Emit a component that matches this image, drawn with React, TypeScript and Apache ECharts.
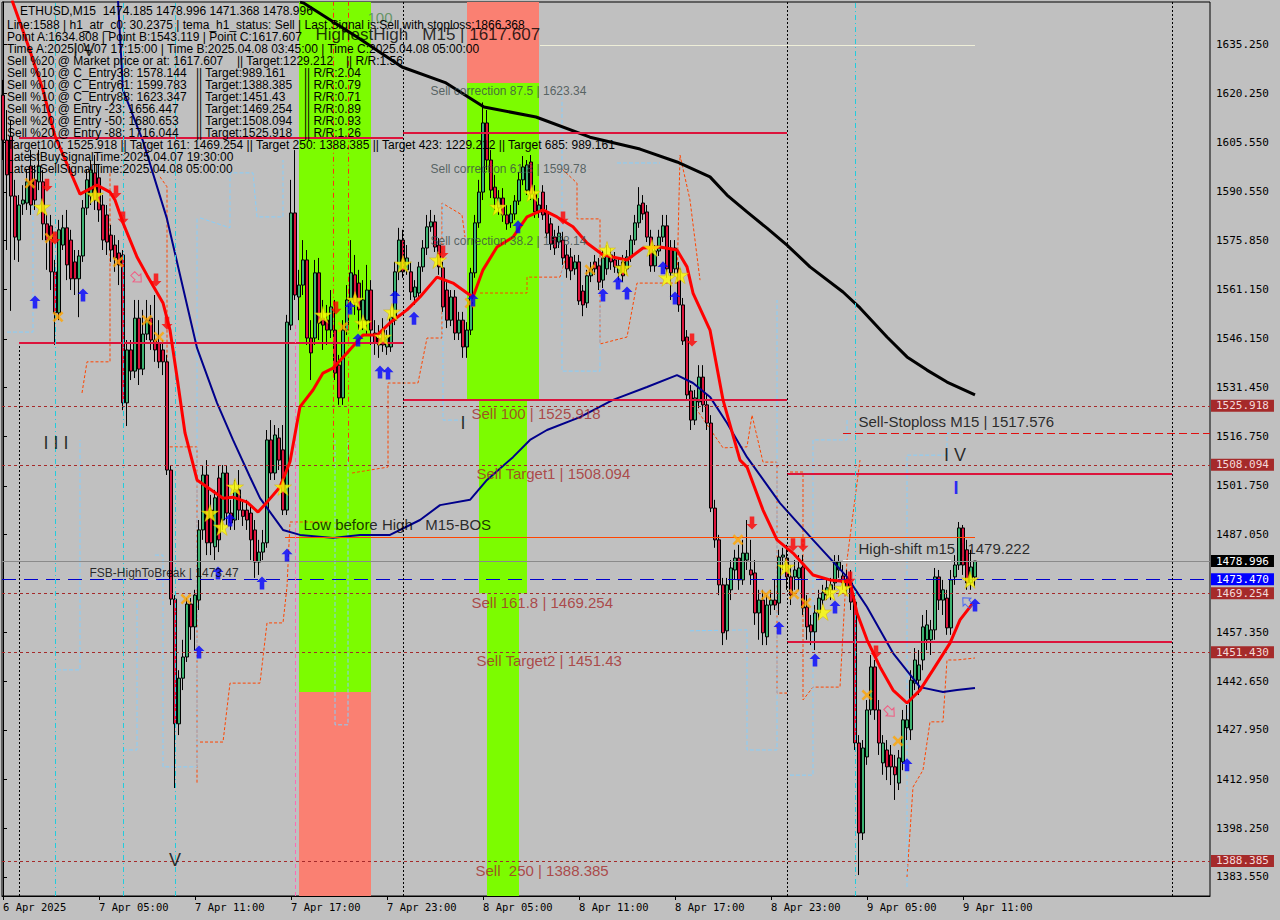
import React, { useEffect, useRef } from "react";
import * as echarts from "echarts";

// ---------- axis ranges (price / candle-index units) ----------
const Y_MIN = 1377.77;
const Y_MAX = 1647.95;
const X_MIN = -0.25;
const X_MAX = 301.75;

const xTickIndex = [0, 24, 48, 72, 96, 120, 144, 168, 192, 216, 240];
const xTickLabels = ["6 Apr 2025", "7 Apr 05:00", "7 Apr 11:00", "7 Apr 17:00", "7 Apr 23:00", "8 Apr 05:00", "8 Apr 11:00", "8 Apr 17:00", "8 Apr 23:00", "9 Apr 05:00", "9 Apr 11:00"];
const yTickValues = [1635.25, 1620.25, 1605.55, 1590.55, 1575.85, 1561.15, 1546.15, 1531.45, 1516.75, 1501.75, 1487.05, 1457.35, 1442.65, 1427.95, 1412.95, 1398.25, 1383.55];

// ---------- ETHUSD M15 candles [open, close, low, high] ----------
const candles = [
  [1619.8, 1606.2, 1600.2, 1624.4], [1606.2, 1595.7, 1573.0, 1615.3], [1607.4, 1589.3, 1554.6, 1612.3], [1589.3, 1576.9, 1570.0, 1594.2],
  [1576.0, 1586.6, 1569.4, 1589.6], [1586.9, 1588.1, 1583.6, 1592.6], [1587.2, 1593.6, 1585.1, 1597.2], [1598.4, 1586.6, 1583.6, 1603.2],
  [1594.2, 1588.1, 1585.1, 1598.7], [1593.6, 1598.4, 1591.1, 1603.2], [1593.6, 1580.9, 1576.0, 1597.2], [1580.9, 1576.0, 1567.0, 1583.6],
  [1580.3, 1566.4, 1560.9, 1583.6], [1566.4, 1554.0, 1544.3, 1570.0], [1554.0, 1579.1, 1551.8, 1582.1], [1574.5, 1579.7, 1573.0, 1583.6],
  [1579.7, 1568.5, 1563.9, 1585.1], [1576.0, 1564.3, 1560.9, 1579.1], [1569.4, 1564.3, 1559.4, 1573.0], [1564.3, 1571.2, 1552.7, 1573.0],
  [1571.2, 1585.7, 1569.4, 1588.1], [1585.7, 1594.2, 1583.6, 1597.2], [1589.3, 1597.2, 1586.6, 1600.2], [1596.3, 1588.1, 1585.1, 1601.7],
  [1594.8, 1585.1, 1581.5, 1598.7], [1586.6, 1576.0, 1573.0, 1589.6], [1583.6, 1575.4, 1571.5, 1586.6], [1577.5, 1573.0, 1569.4, 1580.6],
  [1574.5, 1570.6, 1566.4, 1577.5], [1572.1, 1568.5, 1562.4, 1576.0], [1571.5, 1526.8, 1524.6, 1573.0], [1526.8, 1542.8, 1519.8, 1545.8],
  [1542.8, 1536.4, 1533.7, 1545.8], [1536.4, 1552.4, 1534.3, 1557.9], [1552.4, 1537.0, 1532.2, 1557.9], [1537.0, 1547.6, 1535.2, 1554.9],
  [1547.6, 1551.8, 1545.8, 1557.9], [1552.4, 1545.8, 1542.8, 1556.4], [1545.8, 1542.8, 1539.2, 1559.4], [1544.9, 1539.2, 1537.3, 1551.8],
  [1542.8, 1539.2, 1535.2, 1545.8], [1539.2, 1506.5, 1505.0, 1541.3], [1506.5, 1467.5, 1465.7, 1508.0], [1467.5, 1429.8, 1410.4, 1468.7],
  [1429.8, 1443.6, 1426.4, 1446.0], [1443.6, 1450.0, 1440.0, 1455.2], [1450.0, 1466.0, 1448.5, 1467.8], [1466.0, 1459.1, 1455.2, 1467.8],
  [1459.1, 1468.7, 1452.1, 1470.3], [1467.2, 1488.4, 1464.2, 1491.4], [1488.4, 1505.0, 1485.4, 1508.0], [1505.0, 1484.5, 1480.8, 1509.5],
  [1494.4, 1484.5, 1480.8, 1499.0], [1483.3, 1498.1, 1479.3, 1500.5], [1504.1, 1485.4, 1481.7, 1508.0], [1491.4, 1505.6, 1488.4, 1508.0],
  [1505.6, 1493.5, 1489.9, 1508.0], [1493.5, 1490.5, 1488.4, 1497.5], [1491.4, 1500.5, 1488.4, 1503.5], [1500.5, 1494.4, 1491.4, 1506.5],
  [1494.4, 1492.5, 1489.6, 1497.2], [1494.4, 1491.4, 1488.4, 1497.5], [1493.5, 1485.4, 1479.3, 1495.9], [1488.4, 1478.7, 1473.9, 1491.4],
  [1478.7, 1481.7, 1474.8, 1485.4], [1481.7, 1484.5, 1479.3, 1488.4], [1484.5, 1515.6, 1483.0, 1518.6], [1515.6, 1505.6, 1503.5, 1521.6],
  [1505.6, 1517.1, 1503.5, 1520.1], [1516.2, 1509.5, 1506.5, 1519.2], [1512.6, 1494.4, 1492.9, 1520.1], [1494.4, 1551.2, 1492.9, 1553.4],
  [1550.3, 1584.2, 1548.8, 1594.2], [1584.2, 1559.4, 1557.9, 1603.2], [1558.8, 1562.4, 1551.8, 1567.0], [1562.4, 1570.0, 1559.4, 1576.0],
  [1570.0, 1546.4, 1544.3, 1573.0], [1546.4, 1541.9, 1533.7, 1551.8], [1546.4, 1566.1, 1544.3, 1570.0], [1566.1, 1550.9, 1545.8, 1570.6],
  [1552.4, 1550.3, 1542.8, 1557.9], [1551.8, 1548.8, 1544.3, 1556.4], [1548.8, 1555.8, 1546.4, 1560.9], [1548.8, 1535.8, 1533.7, 1557.9],
  [1538.2, 1528.3, 1526.2, 1541.3], [1528.3, 1548.8, 1526.2, 1551.8], [1548.8, 1557.9, 1547.3, 1562.4], [1557.9, 1566.1, 1554.9, 1576.0],
  [1565.5, 1557.0, 1553.4, 1571.5], [1563.0, 1554.9, 1548.8, 1567.0], [1551.8, 1557.9, 1548.8, 1563.9], [1551.8, 1560.9, 1547.3, 1568.5],
  [1560.9, 1548.8, 1544.3, 1563.9], [1547.9, 1544.9, 1541.3, 1551.8], [1546.4, 1544.3, 1540.4, 1550.3], [1548.8, 1544.3, 1542.2, 1552.4],
  [1543.7, 1546.7, 1541.3, 1548.8], [1543.7, 1552.7, 1542.2, 1554.9], [1551.8, 1566.4, 1550.3, 1569.4], [1566.4, 1576.0, 1563.9, 1579.7],
  [1576.0, 1566.4, 1564.6, 1579.1], [1567.0, 1570.6, 1565.5, 1574.5], [1566.4, 1560.3, 1557.9, 1569.4], [1558.8, 1561.8, 1556.4, 1563.9],
  [1560.0, 1567.9, 1557.9, 1569.4], [1567.9, 1573.6, 1566.4, 1576.0], [1573.6, 1580.0, 1571.5, 1583.6], [1580.0, 1581.5, 1578.5, 1585.1],
  [1581.5, 1573.9, 1572.4, 1583.6], [1574.5, 1567.9, 1565.5, 1576.6], [1567.6, 1555.8, 1554.3, 1569.4], [1560.9, 1551.8, 1549.4, 1563.3],
  [1551.8, 1558.8, 1550.0, 1560.9], [1558.8, 1547.9, 1545.8, 1560.9], [1547.9, 1551.8, 1545.8, 1554.3], [1551.8, 1543.7, 1540.4, 1554.3],
  [1543.7, 1548.8, 1540.4, 1551.2], [1548.8, 1566.1, 1547.3, 1567.6], [1566.1, 1581.2, 1564.6, 1583.6], [1581.2, 1590.5, 1579.7, 1594.2],
  [1590.5, 1611.4, 1588.1, 1617.6], [1611.4, 1600.2, 1597.2, 1615.3], [1600.2, 1591.1, 1588.7, 1603.2], [1592.0, 1588.7, 1585.1, 1595.7],
  [1585.7, 1588.7, 1583.6, 1591.1], [1588.7, 1583.6, 1581.5, 1591.7], [1583.6, 1580.9, 1579.1, 1586.6], [1581.2, 1583.9, 1579.7, 1586.6],
  [1583.9, 1587.8, 1582.1, 1589.6], [1587.8, 1594.2, 1586.6, 1596.6], [1594.2, 1598.1, 1592.6, 1601.4], [1591.1, 1598.7, 1589.6, 1600.2],
  [1599.6, 1589.9, 1588.1, 1601.7], [1589.9, 1584.5, 1582.7, 1592.6], [1584.5, 1586.6, 1582.7, 1588.7], [1590.5, 1583.6, 1582.1, 1592.6],
  [1584.5, 1578.1, 1576.6, 1586.6], [1580.9, 1574.8, 1573.0, 1582.7], [1576.9, 1573.6, 1571.5, 1579.1], [1575.4, 1578.1, 1573.6, 1580.3],
  [1576.0, 1570.6, 1568.5, 1578.5], [1571.5, 1567.3, 1564.6, 1574.5], [1570.9, 1566.7, 1563.9, 1573.6], [1567.3, 1569.4, 1565.5, 1571.5],
  [1569.4, 1557.6, 1556.4, 1571.5], [1560.6, 1556.4, 1553.0, 1562.4], [1557.0, 1565.2, 1555.5, 1567.0], [1565.2, 1567.3, 1563.3, 1569.4],
  [1569.4, 1567.3, 1565.5, 1571.5], [1568.2, 1563.3, 1560.9, 1570.6], [1563.9, 1570.6, 1561.5, 1573.0], [1567.3, 1571.5, 1565.5, 1574.5],
  [1571.5, 1569.4, 1567.0, 1573.6], [1570.0, 1567.9, 1566.1, 1572.4], [1566.1, 1568.2, 1563.9, 1570.6], [1569.4, 1565.2, 1563.3, 1571.5],
  [1567.3, 1570.9, 1565.5, 1573.0], [1570.9, 1576.0, 1569.4, 1577.5], [1576.0, 1581.2, 1574.5, 1583.6], [1581.2, 1586.6, 1579.7, 1592.0],
  [1587.2, 1583.9, 1582.1, 1589.6], [1584.5, 1576.9, 1575.4, 1586.6], [1576.9, 1568.2, 1566.4, 1579.1], [1568.2, 1572.7, 1566.4, 1574.5],
  [1572.7, 1576.9, 1571.2, 1579.1], [1576.9, 1580.3, 1575.4, 1583.6], [1580.3, 1567.3, 1564.6, 1583.6], [1573.6, 1566.1, 1557.9, 1576.0],
  [1567.3, 1573.6, 1565.5, 1576.0], [1567.3, 1556.4, 1554.3, 1569.4], [1556.4, 1545.5, 1544.3, 1558.5], [1546.7, 1529.2, 1527.7, 1548.8],
  [1530.4, 1521.6, 1518.6, 1532.2], [1521.6, 1528.3, 1520.1, 1530.7], [1527.1, 1534.6, 1525.2, 1538.2], [1534.6, 1526.2, 1524.0, 1538.2],
  [1526.2, 1520.7, 1518.6, 1529.2], [1520.7, 1495.0, 1493.8, 1523.1], [1495.0, 1485.4, 1483.0, 1497.5], [1485.4, 1471.8, 1468.7, 1486.9],
  [1471.8, 1457.3, 1453.6, 1473.9], [1457.9, 1471.8, 1455.2, 1473.9], [1470.3, 1476.9, 1467.2, 1479.3], [1476.3, 1479.9, 1473.3, 1482.4],
  [1479.9, 1473.3, 1470.3, 1483.9], [1473.3, 1481.4, 1471.8, 1485.4], [1479.3, 1481.4, 1476.3, 1491.4], [1476.3, 1474.8, 1471.8, 1485.4],
  [1475.4, 1463.3, 1459.7, 1479.3], [1463.3, 1467.2, 1455.2, 1470.3], [1467.2, 1457.3, 1453.6, 1470.3], [1456.1, 1465.7, 1453.6, 1468.7],
  [1465.7, 1467.2, 1462.7, 1470.3], [1467.2, 1465.7, 1464.2, 1473.3], [1466.3, 1480.2, 1462.7, 1482.4], [1480.2, 1480.8, 1476.3, 1483.0],
  [1479.9, 1474.2, 1470.3, 1483.9], [1474.2, 1468.7, 1465.7, 1477.8], [1474.2, 1476.3, 1470.3, 1479.3], [1473.9, 1476.9, 1470.3, 1480.8],
  [1477.2, 1464.8, 1462.7, 1480.8], [1465.1, 1459.1, 1455.2, 1468.7], [1459.7, 1457.6, 1453.6, 1462.7], [1457.6, 1463.3, 1452.1, 1465.7],
  [1463.3, 1467.8, 1461.2, 1470.3], [1467.2, 1469.4, 1465.7, 1471.8], [1468.7, 1470.9, 1467.2, 1473.3], [1470.3, 1471.8, 1467.2, 1473.9],
  [1472.4, 1478.7, 1470.3, 1480.8], [1476.3, 1478.7, 1473.9, 1480.8], [1474.5, 1472.4, 1470.3, 1477.8], [1473.3, 1471.2, 1468.7, 1476.3],
  [1472.4, 1466.6, 1464.2, 1476.3], [1466.6, 1424.0, 1421.9, 1468.7], [1424.0, 1396.8, 1384.1, 1426.4], [1396.8, 1422.5, 1394.7, 1424.9],
  [1419.8, 1434.0, 1417.4, 1437.0], [1434.0, 1447.0, 1432.5, 1450.6], [1447.0, 1434.0, 1431.0, 1449.1], [1434.0, 1424.0, 1420.4, 1437.0],
  [1418.0, 1424.0, 1414.4, 1426.4], [1421.9, 1416.8, 1412.8, 1424.9], [1420.4, 1416.8, 1411.3, 1423.4], [1416.8, 1414.4, 1406.8, 1420.4],
  [1411.9, 1419.5, 1409.8, 1421.9], [1418.3, 1431.0, 1415.8, 1434.0], [1428.6, 1431.0, 1424.9, 1435.5], [1428.0, 1443.0, 1424.9, 1446.0],
  [1442.1, 1449.1, 1440.0, 1452.7], [1443.0, 1447.6, 1438.5, 1452.1], [1449.1, 1459.1, 1446.0, 1462.7], [1455.2, 1459.7, 1452.1, 1464.2],
  [1455.2, 1458.2, 1450.6, 1461.2], [1458.2, 1474.2, 1455.2, 1476.9], [1474.2, 1467.2, 1464.2, 1476.3], [1467.2, 1470.3, 1462.7, 1473.3],
  [1467.8, 1458.8, 1456.7, 1470.3], [1458.8, 1473.3, 1456.7, 1476.3], [1474.2, 1477.8, 1471.8, 1480.8], [1477.8, 1489.0, 1476.3, 1490.8],
  [1489.0, 1477.8, 1474.8, 1489.9], [1482.4, 1472.4, 1470.3, 1485.4], [1472.4, 1477.2, 1470.3, 1482.4], [1474.185, 1478.996, 1471.368, 1478.996],
];

// ---------- indicator lines [candle index, price] ----------
const temaLine = [
  [2.25, 1648.5], [6.25, 1634.95], [10, 1621.35], [13, 1607.45], [16, 1599.0], [19.25, 1589.9], [23.5, 1592.6], [26.75, 1590.5],
  [28, 1588.1], [30, 1581.2], [33.5, 1570.9], [36, 1565.4], [40, 1557.0], [41.75, 1548.8], [43.5, 1534.6], [45.5, 1517.7],
  [47.25, 1509.5], [48.5, 1503.5], [51, 1501.4], [55, 1498.0], [57.5, 1498.3], [61, 1496.8], [63.75, 1493.8], [66, 1496.8],
  [69.25, 1501.4], [71.75, 1509.0], [74.25, 1525.6], [77.5, 1530.7], [80, 1535.8], [82.5, 1537.3], [86, 1541.9], [90, 1547.3],
  [93.5, 1547.3], [96.75, 1551.0], [101, 1554.9], [104.25, 1558.8], [108.5, 1564.8], [112.5, 1563.0], [116, 1560.0], [117.5, 1558.8],
  [120, 1567.0], [123.5, 1573.9], [127.5, 1576.9], [131, 1583.0], [135, 1585.1], [138.5, 1583.0], [142.5, 1580.0], [146, 1575.1],
  [150, 1571.5], [156, 1570.0], [160, 1573.6], [164.25, 1573.9], [168.5, 1573.0], [171, 1567.9], [172.5, 1560.0], [176.75, 1548.8],
  [180, 1527.7], [184.25, 1509.5], [186, 1507.4], [190, 1494.4], [193.5, 1485.4], [197.5, 1481.4], [202.5, 1474.8], [206.75, 1473.3],
  [211.75, 1472.7], [213.5, 1463.3], [216, 1455.2], [219.25, 1447.0], [222.5, 1440.0], [226, 1436.1], [229.25, 1440.0], [232.5, 1446.1],
  [236.75, 1454.2], [239.25, 1461.2], [242.5, 1466.3],
];
const maLine = [
  [28.75, 1648.5], [30, 1621.35], [35, 1605.9], [41, 1582.4], [48.5, 1543.4], [53.5, 1526.8], [57.5, 1515.6], [61.75, 1504.4],
  [64.25, 1498.0], [70, 1488.4], [74.25, 1486.9], [82.5, 1486.0], [89.25, 1486.9], [96.75, 1486.9], [104.25, 1491.4], [109.25, 1495.9],
  [116.75, 1497.5], [121, 1503.5], [127.5, 1510.4], [131.75, 1515.6], [136, 1518.6], [144.25, 1522.5], [152.5, 1527.7], [161, 1531.6],
  [168.5, 1535.2], [172.5, 1532.8], [176.75, 1528.6], [181, 1520.7], [186, 1510.4], [194.25, 1496.5], [202.5, 1485.4], [211, 1474.2],
  [216, 1465.1], [222.5, 1451.2], [229.25, 1440.9], [235, 1439.4], [238.5, 1440.0], [243, 1440.6],
];
const slowLine = [
  [74.25, 1647.9], [75.25, 1647.6], [88.5, 1637.4], [99.75, 1628.3], [110.75, 1623.5], [120.25, 1616.2], [133.25, 1613.2], [146.75, 1607.1],
  [159.25, 1603.5], [168.5, 1599.6], [176.75, 1595.1], [181, 1589.6], [186, 1584.5], [191, 1579.6], [196, 1574.5], [201.75, 1567.9],
  [210, 1560.3], [214.25, 1555.5], [221, 1546.7], [226, 1540.7], [231, 1536.7], [236, 1533.1], [243, 1529.2],
];

// orange trailing band pieces
const orangeBands = [
  [[19.75, 1529.8], [21, 1539.2], [26.75, 1539.2], [26.75, 1596.3]],
  [[39.25, 1595.1], [41, 1592.1], [41, 1513.5], [48.5, 1513.5], [48.5, 1411.9]],
  [[49.25, 1424.3], [55, 1424.3], [56.75, 1442.1], [64.25, 1442.1], [66, 1460.3], [70, 1460.3], [71, 1471.2], [71.75, 1490.8], [81.75, 1490.8]],
  [[87.25, 1505.6], [96.25, 1507.4], [96.25, 1532.8], [103.75, 1532.8], [106, 1546.4], [109.75, 1546.4], [109.75, 1587.2], [114.75, 1583.6], [115.5, 1576.9]],
  [[119.25, 1560.0], [131, 1560.0], [131, 1564.8], [139.25, 1564.8], [140.5, 1570.0]],
  [[139.75, 1597.5], [143.5, 1593.2], [143.5, 1582.4], [149.25, 1582.4], [149.25, 1544.6], [156, 1546.7], [158.5, 1563.0], [168.5, 1563.0], [169.25, 1601.7], [171.75, 1588.1], [174.25, 1563.9]],
  [[171.75, 1527.7], [180, 1513.2], [186, 1513.5], [187.25, 1523.1], [190, 1508.9], [193.5, 1508.9], [193.5, 1439.1], [196, 1439.1]],
  [[196.75, 1505.9], [200, 1505.9], [200, 1437.0], [202.5, 1440.9], [209.25, 1440.9], [211, 1479.3], [214.25, 1509.5]],
  [[226, 1383.5], [227.5, 1410.7], [230, 1415.8], [231.75, 1430.4], [235, 1430.4], [236, 1449.1], [238.5, 1449.1], [243, 1449.7]],
];
// light-blue channel pieces
const blueBands = [
  [[1, 1548.2], [7.5, 1548.2], [7.5, 1588.1]],
  [[13.5, 1446.1], [19.25, 1446.1], [19.25, 1515.6]],
  [[30, 1421.9], [33.5, 1421.9], [33.5, 1467.2]],
  [[38, 1480.8], [40, 1480.8], [40, 1416.8], [48.5, 1416.8], [48.5, 1582.7]],
  [[49.25, 1582.7], [56.75, 1579.7], [56.75, 1596.3], [62.5, 1596.3], [63.5, 1583.0], [70, 1583.0], [70, 1600.2]],
  [[83, 1515.6], [83, 1429.5], [86.25, 1429.5], [86.25, 1515.6]],
  [[110, 1587.2], [110, 1521.6], [116, 1521.6]],
  [[139.75, 1621.4], [139.75, 1536.4], [149.25, 1536.4], [149.25, 1570.0]],
  [[153.5, 1599.3], [164.25, 1599.3]],
  [[171.75, 1457.9], [186, 1458.2], [186, 1421.9], [193.5, 1421.9], [193.5, 1557.9]],
  [[196.75, 1414.3], [202.5, 1414.3], [202.5, 1515.6], [211, 1515.6], [211, 1521.6]],
  [[226, 1380.5], [226, 1511.0], [236, 1511.0], [236, 1517.7], [240, 1517.7]],
];

// ---------- signal markers [candle index, price] ----------
const stars = [
  [9.75, 1586.0], [23, 1589.6], [51.75, 1493.5], [54.75, 1489.3], [58, 1501.4], [70, 1501.4], [80, 1553.4], [88, 1557.9],
  [90, 1550.9], [95, 1546.7], [97.25, 1554.3], [100, 1568.8], [108.75, 1570.0], [123.75, 1586.0], [132.25, 1590.2], [151, 1573.0],
  [155, 1567.6], [162.25, 1573.6], [166, 1564.6], [169.25, 1565.4], [195.75, 1477.2], [205, 1463.6], [206.75, 1469.6], [210, 1470.8],
  [241.75, 1473.3],
];
const crosses = [
  [6.75, 1593.2], [11.75, 1576.6], [13.75, 1552.8], [28.75, 1569.4], [36, 1551.8], [39, 1546.7], [45.75, 1467.5], [85, 1549.7],
  [116.75, 1557.0], [146.75, 1567.0], [183.75, 1485.4], [190.75, 1468.7], [197.75, 1469.0], [200.75, 1466.3], [216, 1438.5], [223.75, 1424.6],
];
const buyArrows = [
  [8, 1557.3], [20, 1559.4], [49, 1451.5], [53.75, 1475.4], [56.75, 1491.4], [64.75, 1472.4], [71, 1480.8], [86.75, 1555.5],
  [88.75, 1545.8], [94.25, 1536.1], [96.25, 1535.8], [98, 1558.8], [102.75, 1552.4], [117.5, 1557.9], [128.75, 1580.0], [150, 1559.4],
  [153.75, 1563.0], [156, 1560.0], [165, 1567.6], [168, 1558.5], [194, 1458.8], [203, 1449.1], [208, 1465.1], [226, 1417.4],
  [243, 1465.7],
];
const sellArrows = [
  [11, 1592.6], [13, 1576.6], [28.25, 1590.5], [30, 1582.7], [38.25, 1563.9], [41, 1550.9], [83.25, 1555.5], [110, 1572.4],
  [140, 1582.7], [172.25, 1545.8], [187.25, 1490.5], [197.5, 1483.9], [200, 1483.9], [211.75, 1473.9], [218.25, 1451.5],
];
const hollowSell = [[33.5, 1564.6], [221.75, 1433.4]];
const hollowBuy = [[241, 1466.6]];

// ---------- levels ----------
const targetLevels = [1525.918, 1508.094, 1469.254, 1451.43, 1388.385];
const bidPrice = 1478.996;
const fsbLevel = 1473.47;
const stopLevel = 1517.576;
const highShiftLevel = 1479.222;
const lowBeforeHighLevel = 1486.3;
const highestHighLevel = 1634.95;
const structureSegments = [
  [4, 100, 1606.8], [100, 196, 1608.4], [4, 100, 1544.9], [100, 196, 1527.7], [196, 292.25, 1505.3], [196, 292.25, 1454.5],
];
const sessionSeparators = [100, 196, 292.25];
const cyanMarkers = [13, 30, 43, 213];

// zones [x1, x2, p1, p2]
const greenZones = [
  [74, 92, 1439.4, Y_MAX], [116, 134, 1527.7, 1623.5], [119, 131, 1469.3, 1527.7], [121, 129, Y_MIN, 1469.3],
];
const salmonZones = [[74, 92, Y_MIN, 1439.4], [116, 134, 1623.5, Y_MAX]];

// ---------- annotations ----------
const correctionLabels = [
  { text: "Sell correction 87.5 | 1623.34", at: [106.75, 1621.05] },
  { text: "Sell correction 61.8 | 1599.78", at: [106.75, 1597.5] },
  { text: "Sell correction 38.2 | 1578.14", at: [106.75, 1575.7] },
];
const sellLabels = [
  { text: "Sell 100 | 1525.918", at: [117, 1523.7] },
  { text: "Sell Target1 | 1508.094", at: [118.25, 1505.6] },
  { text: "Sell 161.8 | 1469.254", at: [117, 1466.6] },
  { text: "Sell Target2 | 1451.43", at: [118.25, 1448.8] },
  { text: "Sell  250 | 1388.385", at: [118, 1385.6] },
];
const structureLabels = [
  { text: "Sell-Stoploss M15 | 1517.576", at: [213.75, 1521.3] },
  { text: "High-shift m15 | 1479.222", at: [213.75, 1482.9] },
  { text: "Low before High   M15-BOS", at: [75, 1489.9] },
];
const fsbLabel = [{ text: "FSB-HighToBreak | 1473.47", at: [21.5, 1475.4] }];
const highestLabel = [{ text: "HighestHigh   M15 | 1617.607", at: [78, 1638.0] }];
const hundredLabel = [{ text: "100", at: [91, 1643.4] }];
const waveLabels = [
  { text: "I I I", at: [13.25, 1514.7] }, { text: "V", at: [43, 1388.7] }, { text: "I", at: [115, 1520.6] },
  { text: "I V", at: [238, 1511.0] }, { text: "I V", at: [20.25, 1633.4] },
];
const waveBlueLabels = [{ text: "I", at: [238.25, 1501.1] }];

const headerTitle = "ETHUSD,M15  1474.185 1478.996 1471.368 1478.996";
const headerLines = [
  "Line:1588 | h1_atr_c0: 30.2375 | tema_h1_status: Sell | Last Signal is:Sell with stoploss:1866.368",
  "Point A:1634.808 | Point B:1543.119 | Point C:1617.607",
  "Time A:2025.04.07 17:15:00 | Time B:2025.04.08 03:45:00 | Time C:2025.04.08 05:00:00",
];
const marketRow = ["Sell %20 @ Market price or at: 1617.607", "|| Target:1229.212", "|| R/R:1.56"];
const orderRows = [
  ["Sell %10 @ C_Entry38: 1578.144", "|| Target:989.161", "|| R/R:2.04"],
  ["Sell %10 @ C_Entry61: 1599.783", "|| Target:1388.385", "|| R/R:0.79"],
  ["Sell %10 @ C_Entry88: 1623.347", "|| Target:1451.43", "|| R/R:0.71"],
  ["Sell %10 @ Entry -23: 1656.447", "|| Target:1469.254", "|| R/R:0.89"],
  ["Sell %20 @ Entry -50: 1680.653", "|| Target:1508.094", "|| R/R:0.93"],
  ["Sell %20 @ Entry -88: 1716.044", "|| Target:1525.918", "|| R/R:1.26"],
];
const footerLines = [
  "Target100: 1525.918 || Target 161: 1469.254 || Target 250: 1388.385 || Target 423: 1229.212 || Target 685: 989.161",
  "LatestBuySignalTime:2025.04.07 19:30:00",
  "LatestSellSignalTime:2025.04.08 05:00:00",
];

// ---------- symbols ----------
const UP_ARROW = "path://M6,0 L12,6 L8.5,6 L8.5,14 L3.5,14 L3.5,6 L0,6 Z";
const DOWN_ARROW = "path://M3.5,0 L8.5,0 L8.5,8 L12,8 L6,14 L0,8 L3.5,8 Z";
const CROSS = "path://M0,2 L2,0 L6,4 L10,0 L12,2 L8,6 L12,10 L10,12 L6,8 L2,12 L0,10 L4,6 Z";
const STAR = "path://M50,0 L61,35 L98,35 L68,57 L79,91 L50,70 L21,91 L32,57 L2,35 L39,35 Z";
const RIGHT_ARROW = "path://M0,3 L6,3 L6,0 L12,6 L6,12 L6,9 L0,9 Z";

const SANS = "Liberation Sans";
const MONO = "DejaVu Sans Mono";

function labelSeries(name: string, items: { text: string; at: number[] }[], style: any, position: any = "right") {
  return {
    name,
    type: "scatter",
    z: 8,
    silent: true,
    symbolSize: 1,
    itemStyle: { color: "rgba(0,0,0,0)" },
    data: items.map((it) => ({ value: it.at, label: { formatter: it.text } })),
    label: { show: true, position, distance: 0, ...style },
  };
}

function markerSeries(name: string, data: number[][], symbol: string, size: any, style: any, rotate = 0) {
  return {
    name,
    type: "scatter",
    z: 7,
    silent: true,
    symbol,
    symbolSize: size,
    symbolRotate: rotate,
    itemStyle: style,
    data,
  };
}

function tag(value: number, bg: string, fg: string) {
  return {
    show: true,
    position: "end",
    distance: 1,
    formatter: value.toFixed(3),
    backgroundColor: bg,
    color: fg,
    fontFamily: MONO,
    fontSize: 11,
    padding: [1, 5, 0, 5],
  };
}

function buildOption() {
  const hSeg = (x1: number, x2: number, p: number, lineStyle: any) => [
    { coord: [x1, p], lineStyle },
    { coord: [x2, p] },
  ];
  const vSeg = (x: number, p1: number, p2: number, lineStyle: any) => [
    { coord: [x, p1], lineStyle },
    { coord: [x, p2] },
  ];

  const brownDot = { color: "#A52A2A", type: [3, 3], width: 1 };

  const levelData: any[] = [
    ...targetLevels.map((v) => ({ yAxis: v, lineStyle: brownDot, label: tag(v, "#A52A2A", "#F4DADA") })),
    { yAxis: bidPrice, lineStyle: { color: "#8A8A8A", type: "solid", width: 1 }, label: tag(bidPrice, "#000000", "#FFFFFF") },
    { yAxis: fsbLevel, lineStyle: { color: "#0000CD", type: [14, 8], width: 1 }, label: tag(fsbLevel, "#0000FF", "#FFFFFF") },
    hSeg(210, X_MAX, stopLevel, { color: "#E01010", type: [8, 4], width: 1 }),
    hSeg(210, 237, highShiftLevel, { color: "#FFFFFF", type: "solid", width: 1 }),
    hSeg(70.5, 243, lowBeforeHighLevel, { color: "#FF4500", type: "solid", width: 1 }),
    hSeg(134.25, 243, highestHighLevel, { color: "#EEEED8", type: "solid", width: 1 }),
    ...structureSegments.map((s) => hSeg(s[0], s[1], s[2], { color: "#DC143C", type: "solid", width: 2 })),
    ...sessionSeparators.map((x) => vSeg(x, Y_MIN, Y_MAX, { color: "#000000", type: [2, 2], width: 1 })),
    vSeg(4, Y_MIN, 1544.0, { color: "#000000", type: [2, 2], width: 1 }),
    ...cyanMarkers.map((x) => vSeg(x, Y_MIN, Y_MAX, { color: "#22CCDD", type: [5, 3, 1, 3], width: 1 })),
    vSeg(73, Y_MIN, 1551.0, { color: "#FF69B4", type: [4, 3], width: 1 }),
    vSeg(82.5, 1509.0, Y_MAX, { color: "#FF3010", type: [5, 3, 1, 3], width: 1 }),
    vSeg(86.25, 1509.0, Y_MAX, { color: "#FF3010", type: [5, 3, 1, 3], width: 1 }),
  ];

  const zoneData = [
    ...greenZones.map((z) => [
      { xAxis: z[0], yAxis: z[2], itemStyle: { color: "#7CFC00" } },
      { xAxis: z[1], yAxis: z[3] },
    ]),
    ...salmonZones.map((z) => [
      { xAxis: z[0], yAxis: z[2], itemStyle: { color: "#FA8072" } },
      { xAxis: z[1], yAxis: z[3] },
    ]),
  ];

  const series: any[] = [
    {
      name: "zones",
      type: "line",
      data: [],
      z: 0,
      silent: true,
      markArea: { silent: true, data: zoneData },
    },
    {
      name: "levels",
      type: "line",
      data: [],
      z: 1,
      silent: true,
      markLine: { silent: true, symbol: ["none", "none"], label: { show: false }, data: levelData },
    },
    ...orangeBands.map((d, k) => ({
      name: "orangeBand" + k,
      type: "line",
      data: d,
      z: 2,
      silent: true,
      showSymbol: false,
      lineStyle: { color: "#FF4500", width: 1, type: [3, 2] },
    })),
    ...blueBands.map((d, k) => ({
      name: "blueBand" + k,
      type: "line",
      data: d,
      z: 2,
      silent: true,
      showSymbol: false,
      lineStyle: { color: "#87CEFA", width: 1, type: [4, 2] },
    })),
    {
      name: "ETHUSD",
      type: "candlestick",
      z: 3,
      silent: true,
      barWidth: 3,
      data: candles.map((c, i) => [i, c[0], c[1], c[2], c[3]]),
      itemStyle: { color: "#3CB371", color0: "#DC143C", borderColor: "#000000", borderColor0: "#000000", borderWidth: 1 },
    },
    { name: "slow", type: "line", z: 4, silent: true, showSymbol: false, data: slowLine, lineStyle: { color: "#000000", width: 3 } },
    { name: "ma", type: "line", z: 4, silent: true, showSymbol: false, data: maLine, lineStyle: { color: "#00008B", width: 2 } },
    { name: "tema", type: "line", z: 5, silent: true, showSymbol: false, data: temaLine, lineStyle: { color: "#FF0000", width: 3 } },
    markerSeries("stars", stars, STAR, 17, { color: "#FFFF00", borderColor: "#D4B000", borderWidth: 0.6 }),
    markerSeries("crosses", crosses, CROSS, 11, { color: "#FFA500" }),
    markerSeries("buy", buyArrows, UP_ARROW, [11, 13], { color: "#0000FF" }),
    markerSeries("sell", sellArrows, DOWN_ARROW, [11, 13], { color: "#FF0000" }),
    markerSeries("hollowSell", hollowSell, RIGHT_ARROW, [12, 11], { color: "rgba(0,0,0,0)", borderColor: "#FF4070", borderWidth: 1 }, -45),
    markerSeries("hollowBuy", hollowBuy, RIGHT_ARROW, [12, 11], { color: "rgba(0,0,0,0)", borderColor: "#3050FF", borderWidth: 1 }, 135),
    labelSeries("correction", correctionLabels, { color: "#3A4A4A", fontFamily: SANS, fontSize: 12 }),
    labelSeries("sellLabels", sellLabels, { color: "#A52A2A", fontFamily: SANS, fontSize: 15 }),
    labelSeries("structure", structureLabels, { color: "#000000", fontFamily: SANS, fontSize: 15 }),
    labelSeries("fsb", fsbLabel, { color: "#000000", fontFamily: SANS, fontSize: 12 }),
    labelSeries("highest", highestLabel, { color: "#000000", fontFamily: SANS, fontSize: 17 }),
    labelSeries("hundred", hundredLabel, { color: "#4F8A4F", fontFamily: SANS, fontSize: 15 }),
    labelSeries("waves", waveLabels, { color: "#000000", fontFamily: SANS, fontSize: 18 }, "inside"),
    labelSeries("wavesBlue", waveBlueLabels, { color: "#0000FF", fontFamily: SANS, fontSize: 18, fontWeight: "bold" }, "inside"),
  ];

  const textEl = (text: string, x: number, y: number) => ({
    type: "text",
    x,
    y,
    z: 100,
    silent: true,
    style: { text, fill: "#000000", fontFamily: SANS, fontSize: 12, verticalAlign: "middle", align: "left" },
  });

  const graphics: any[] = [textEl(headerTitle, 20, 11)];
  headerLines.forEach((t, k) => graphics.push(textEl(t, 7, 25 + 12 * k)));
  graphics.push(textEl(marketRow[0], 7, 61), textEl(marketRow[1], 237, 61), textEl(marketRow[2], 346, 61));
  orderRows.forEach((r, k) => {
    const y = 73 + 12 * k;
    graphics.push(textEl(r[0], 7, y), textEl(r[1], 196, y), textEl(r[2], 304, y));
  });
  footerLines.forEach((t, k) => graphics.push(textEl(t, 7, 145 + 12 * k)));

  return {
    animation: false,
    backgroundColor: "#C0C0C0",
    grid: { left: 2, right: 70, top: 2, bottom: 24, show: true, borderColor: "#000000", borderWidth: 1, backgroundColor: "rgba(0,0,0,0)" },
    xAxis: {
      type: "value",
      min: X_MIN,
      max: X_MAX,
      axisLine: { show: true, lineStyle: { color: "#000000" } },
      axisTick: { show: true, customValues: xTickIndex, length: 4, lineStyle: { color: "#000000" } },
      axisLabel: {
        show: true,
        customValues: xTickIndex,
        formatter: (v: number) => {
          const k = xTickIndex.indexOf(Math.round(v));
          return k >= 0 ? xTickLabels[k] : "";
        },
        align: "left",
        margin: 5,
        color: "#000000",
        fontFamily: MONO,
        fontSize: 10.5,
      },
      splitLine: { show: false },
    },
    yAxis: {
      type: "value",
      position: "right",
      min: Y_MIN,
      max: Y_MAX,
      axisLine: { show: true, lineStyle: { color: "#000000" } },
      axisTick: { show: true, customValues: yTickValues, length: 4, lineStyle: { color: "#000000" } },
      axisLabel: {
        show: true,
        customValues: yTickValues,
        formatter: (v: number) => v.toFixed(3),
        margin: 6,
        color: "#000000",
        fontFamily: MONO,
        fontSize: 11,
      },
      splitLine: { show: false },
    },
    graphic: graphics,
    series,
  };
}

export default function App() {
  const ref = useRef<HTMLDivElement>(null);
  useEffect(() => {
    document.body.style.margin = "0";
    const chart = echarts.init(ref.current as HTMLDivElement, null, { renderer: "svg" });
    chart.setOption(buildOption() as any);
    return () => chart.dispose();
  }, []);
  return <div ref={ref} style={{ position: "fixed", left: 0, top: 0, width: 1280, height: 920 }} />;
}
